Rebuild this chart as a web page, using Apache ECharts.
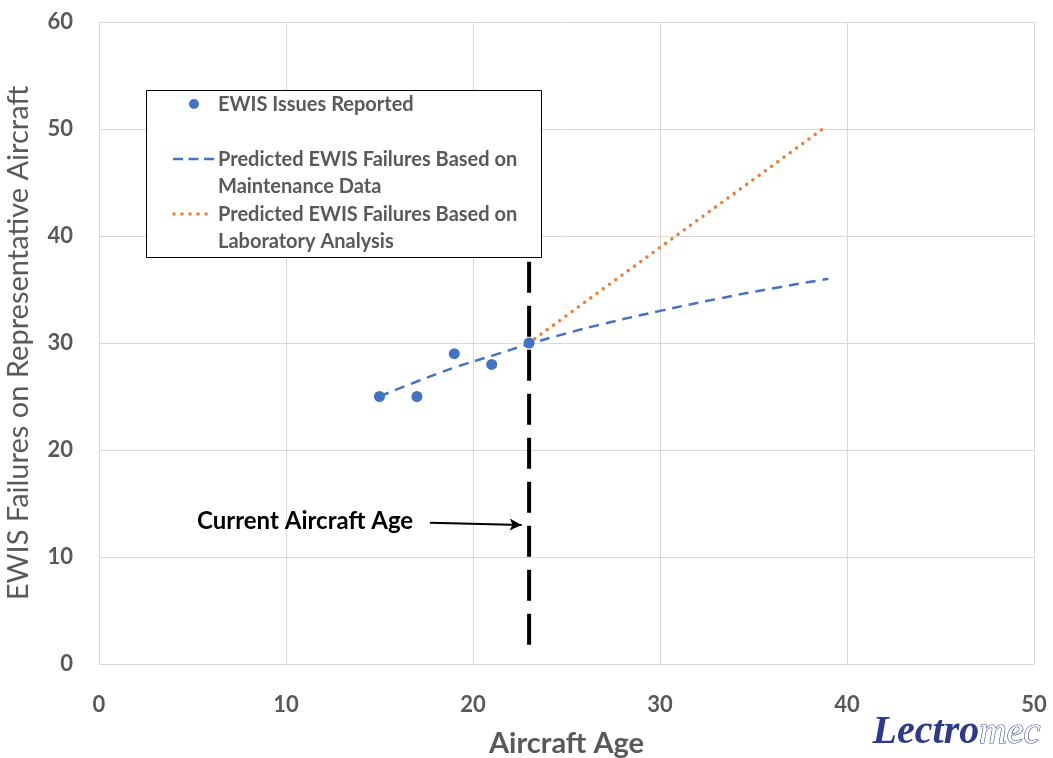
<!DOCTYPE html>
<html>
<head>
<meta charset="utf-8">
<script src="https://cdn.jsdelivr.net/npm/echarts@6/dist/echarts.min.js"></script>
<style>
  html, body { margin: 0; padding: 0; background: #fff; }
  #chart { width: 1053px; height: 758px; }
</style>
</head>
<body>
<div id="chart"></div>
<script>
// ---- Data ----
const issueAges = [15, 17, 19, 21, 23];
const issueCounts = [25, 25, 29, 28, 30];

const maintAges = [15, 17, 19, 21, 23, 25, 27, 30, 33, 36, 39];
const maintPredicted = [25, 26.4, 27.7, 28.8, 29.9, 30.9, 31.8, 33.0, 34.1, 35.1, 36.0];

const labAges = [23.3, 38.7];
const labPredicted = [30.4, 50.0];

const currentAge = 23;
const currentLineY = [37.6, 1.5];

const arrowFrom = [17.7, 13.2];
const arrowTo = [22.6, 13.0];

const xTicks = { min: 0, max: 50, interval: 10 };
const yTicks = { min: 0, max: 60, interval: 10 };

const seriesNames = [
  'EWIS Issues Reported',
  'Predicted EWIS Failures Based on\nMaintenance Data',
  'Predicted EWIS Failures Based on\nLaboratory Analysis'
];
const annotationText = 'Current Aircraft Age';
const xTitle = 'Aircraft Age';
const yTitle = 'EWIS Failures on Representative Aircraft';

const BLUE = '#4472C4';
const ORANGE = '#ED7D31';
const GREY = '#595959';
const FONT = 'Lato, "Open Sans", sans-serif';

const zip = (a, b) => a.map((v, i) => [v, b[i]]);

const chart = echarts.init(document.getElementById('chart'), null, { renderer: 'canvas' });

const legendLines = seriesNames.map(s => s.split('\n'));

const option = {
  animation: false,
  backgroundColor: '#ffffff',
  grid: { left: 99, right: 19, top: 22, bottom: 94, containLabel: false, outerBoundsMode: 'none' },
  xAxis: {
    type: 'value',
    min: xTicks.min, max: xTicks.max, interval: xTicks.interval,
    name: xTitle,
    nameLocation: 'middle',
    nameGap: 65,
    nameTextStyle: { color: GREY, fontFamily: FONT, fontWeight: 'bold', fontSize: 29 },
    axisLine: { show: false },
    axisTick: { show: false },
    axisLabel: { color: GREY, fontFamily: FONT, fontWeight: 'bold', fontSize: 22, margin: 30 },
    splitLine: { show: true, lineStyle: { color: '#d9d9d9', width: 1 } }
  },
  yAxis: {
    type: 'value',
    min: yTicks.min, max: yTicks.max, interval: yTicks.interval,
    name: yTitle,
    nameLocation: 'middle',
    nameGap: 66,
    nameTextStyle: { color: GREY, fontFamily: FONT, fontSize: 29 },
    axisLine: { show: false },
    axisTick: { show: false },
    axisLabel: { color: GREY, fontFamily: FONT, fontWeight: 'bold', fontSize: 22, margin: 26 },
    splitLine: { show: true, lineStyle: { color: '#d9d9d9', width: 1 } }
  },
  series: [
    {
      name: 'Current Aircraft Age line',
      type: 'line',
      data: [[currentAge, currentLineY[0]], [currentAge, currentLineY[1]]],
      showSymbol: false,
      symbol: 'none',
      lineStyle: { color: '#000', width: 4, type: [31, 13] },
      z: 1,
      markLine: {
        silent: true,
        symbol: ['none', 'arrow'],
        symbolSize: [9, 12],
        label: { show: false },
        lineStyle: { color: '#000', width: 2, type: 'solid' },
        data: [[{ coord: arrowFrom }, { coord: arrowTo }]]
      }
    },
    {
      name: seriesNames[1],
      type: 'line',
      data: zip(maintAges, maintPredicted),
      smooth: true,
      showSymbol: false,
      symbol: 'none',
      lineStyle: { color: BLUE, width: 2.5, type: [10, 7] },
      z: 2
    },
    {
      name: seriesNames[2],
      type: 'line',
      data: zip(labAges, labPredicted),
      showSymbol: false,
      symbol: 'none',
      lineStyle: { color: ORANGE, width: 3.5, type: [0.01, 7.7], cap: 'round' },
      z: 3
    },
    {
      name: seriesNames[0],
      type: 'scatter',
      data: zip(issueAges, issueCounts),
      symbol: 'circle',
      symbolSize: 11,
      itemStyle: { color: BLUE, opacity: 1 },
      z: 4
    }
  ],
  graphic: [
    // legend box
    { type: 'rect', left: 146, top: 90, z: 10,
      shape: { width: 395, height: 167 },
      style: { fill: '#fff', stroke: '#000', lineWidth: 1 } },
    { type: 'circle', z: 11, shape: { cx: 194, cy: 104, r: 5 }, style: { fill: BLUE } },
    { type: 'text', z: 11, left: 218, top: 91,
      style: { text: legendLines[0].join('\n'), fill: GREY, font: 'bold 20px ' + FONT, lineHeight: 27 } },
    { type: 'line', z: 11, shape: { x1: 173, y1: 159, x2: 214, y2: 159 },
      style: { stroke: BLUE, lineWidth: 2.5, lineDash: [10, 5.5] } },
    { type: 'text', z: 11, left: 218, top: 146,
      style: { text: legendLines[1].join('\n'), fill: GREY, font: 'bold 20px ' + FONT, lineHeight: 27 } },
    { type: 'line', z: 11, shape: { x1: 174, y1: 214, x2: 214, y2: 214 },
      style: { stroke: ORANGE, lineWidth: 3.5, lineDash: [0.01, 8], lineCap: 'round' } },
    { type: 'text', z: 11, left: 218, top: 201,
      style: { text: legendLines[2].join('\n'), fill: GREY, font: 'bold 20px ' + FONT, lineHeight: 27 } },
    // annotation
    { type: 'text', z: 11, left: 197, top: 509,
      style: { text: annotationText, fill: '#000', font: 'bold 24px ' + FONT } },
    // logo
    { type: 'text', z: 11, right: 12, top: 713,
      style: {
        text: '{a|Lectro}{b|mec}',
        rich: {
          a: { fontFamily: '"Liberation Serif", "DejaVu Serif", serif', fontStyle: 'italic', fontWeight: 'bold', fontSize: 40, fill: '#2B3A8F' },
          b: { fontFamily: '"Liberation Serif", "DejaVu Serif", serif', fontStyle: 'italic', fontSize: 38, fill: '#ffffff', stroke: '#3B4C9E', lineWidth: 1.2 }
        }
      } }
  ]
};

chart.setOption(option);
</script>
</body>
</html>
